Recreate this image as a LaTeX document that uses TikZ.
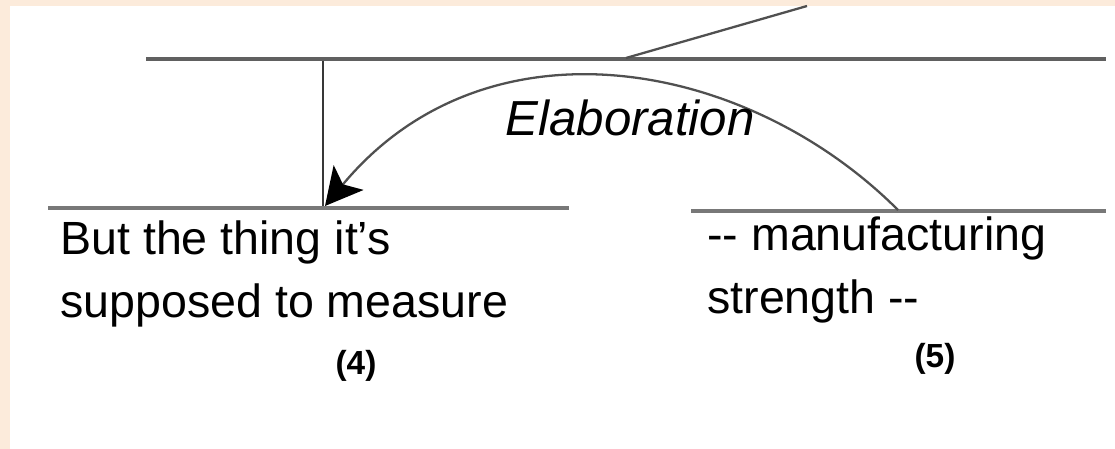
\documentclass[tikz,border=0pt]{standalone}
\usepackage{fontspec}
\setmainfont{Liberation Sans}
\usetikzlibrary{arrows.meta}

\definecolor{peach}{RGB}{252,235,219}
\definecolor{spangray}{RGB}{120,120,120}
\definecolor{linkgray}{RGB}{80,80,80}

\begin{document}
\begin{tikzpicture}[x=0.02cm, y=-0.02cm,
    span/.style={spangray, line width=2.3pt},
    link/.style={linkgray, line width=1.3pt},
    segtext/.style={inner sep=0pt, anchor=north west, align=left,
        font=\fontsize{26.5}{36}\selectfont},
    segnum/.style={inner sep=0pt, font=\bfseries\fontsize{19}{22}\selectfont}]

    % 1. Page background and frame
    \fill[peach] (0,0) rectangle (1115,449);
    \fill[white] (10,6) rectangle (1115,449);
    \useasboundingbox (0,0) rectangle (1115,449);

    % 2. Span lines
    \coordinate (topL) at (146,59);
    \coordinate (topR) at (1106,59);
    \coordinate (leftL) at (48,208);
    \coordinate (leftR) at (569,208);
    \coordinate (rightL) at (691,211);
    \coordinate (rightR) at (1106,211);
    \draw[span, spangray!80!black] (topL) -- (topR);
    \draw[span] (leftL) -- (leftR);
    \draw[span] (rightL) -- (rightR);

    % 3. Joins on the spans
    \coordinate (topjoin) at (626,58);
    \coordinate (upper) at (807,6);
    \coordinate (nucleus) at (323,61);
    \coordinate (leftjoin) at (325,206);
    \coordinate (rightjoin) at (898,210);

    \draw[link] (topjoin) -- (upper);
    \draw[linkgray!70!black, line width=1.1pt] (nucleus) -- (nucleus |- leftjoin);
    \draw[link, -{Stealth[length=21pt, width=22pt, inset=5pt, black]}]
        (rightjoin) .. controls (746,58) and (486,12) .. (leftjoin);

    % 4. Texts
    \node[inner sep=0pt, font=\itshape\fontsize{28}{30}\selectfont] (rel) at (630,118) {Elaboration};
    \node[segtext] (seg4) at (60,220) {But the thing it’s\\supposed to measure};
    \node[segtext] (seg5) at (707,216) {-{}- manufacturing\\strength -{}-};
    \node[segnum] (num4) at (356,366) {(4)};
    \node[segnum] (num5) at (935,359) {(5)};

\end{tikzpicture}
\end{document}
